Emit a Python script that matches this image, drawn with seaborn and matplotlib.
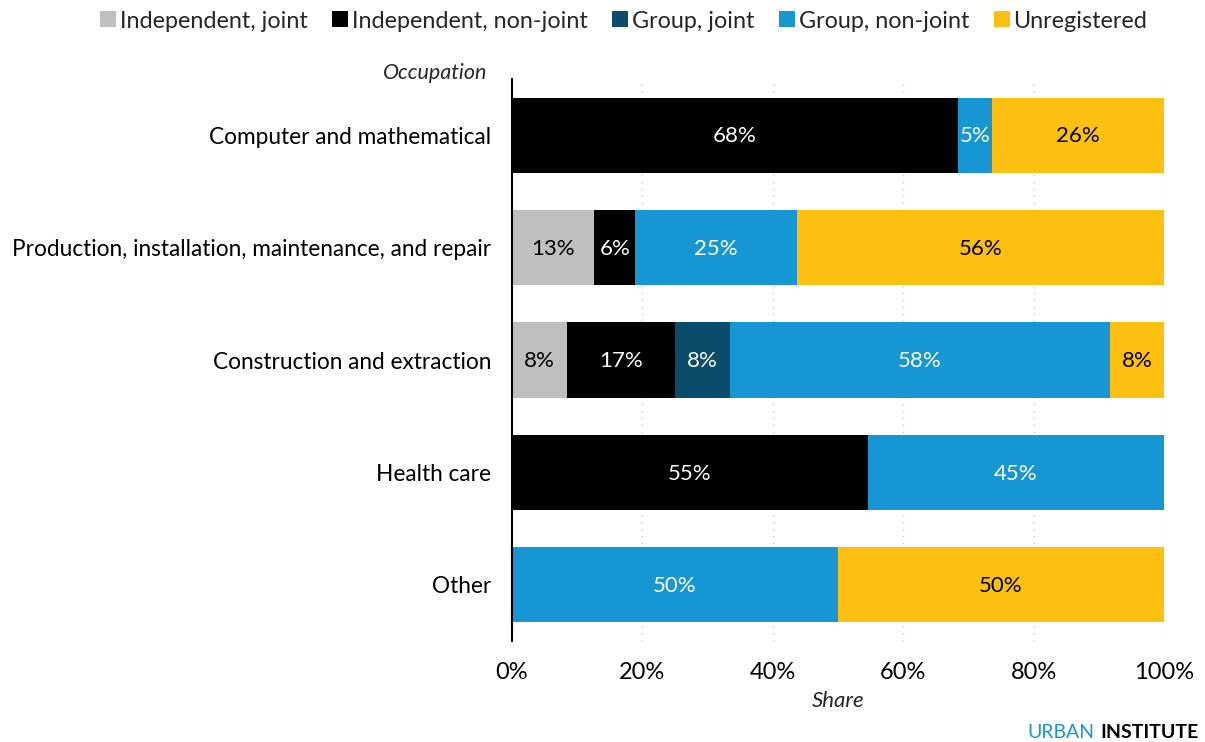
import matplotlib
matplotlib.use("Agg")
import matplotlib.pyplot as plt
from matplotlib.lines import Line2D
import numpy as np
import pandas as pd
import seaborn as sns

# Occupations (top to bottom) and share of each registration type, in percent
occupations = [
    "Computer and mathematical",
    "Production, installation, maintenance, and repair",
    "Construction and extraction",
    "Health care",
    "Other",
]
series_names = [
    "Independent, joint",
    "Independent, non-joint",
    "Group, joint",
    "Group, non-joint",
    "Unregistered",
]
independent_joint = [0.0, 12.6, 8.4, 0.0, 0.0]
independent_nonjoint = [68.4, 6.3, 16.6, 54.6, 0.0]
group_joint = [0.0, 0.0, 8.4, 0.0, 0.0]
group_nonjoint = [5.2, 24.8, 58.3, 45.4, 50.0]
unregistered = [26.4, 56.3, 8.3, 0.0, 50.0]

series_values = [independent_joint, independent_nonjoint, group_joint,
                 group_nonjoint, unregistered]
colors = ["#bfbfbf", "#000000", "#0a4c6a", "#1696d2", "#fdbf11"]
label_colors = ["#000000", "#ffffff", "#ffffff", "#ffffff", "#000000"]
x_ticks = [0, 20, 40, 60, 80, 100]

sns.set_theme(style="white")
plt.rcParams["font.family"] = ["Lato", "DejaVu Sans"]

df = pd.DataFrame({name: vals for name, vals in zip(series_names, series_values)},
                  index=occupations)
cum_end = df.cumsum(axis=1)
cum_start = cum_end - df

fig = plt.figure(figsize=(12.05, 7.42), dpi=100)
ax = fig.add_axes([512 / 1205, 1 - 641 / 742, 652 / 1205, (641 - 79) / 742])

# Stack by drawing cumulative totals from the outermost layer inward
for name, color in reversed(list(zip(series_names, colors))):
    plot_df = pd.DataFrame({"occupation": occupations, "end": cum_end[name].values})
    sns.barplot(data=plot_df, x="end", y="occupation", orient="h", color=color,
                saturation=1, width=0.67, ax=ax, linewidth=0, order=occupations)

# Segment value labels
for i, occ in enumerate(occupations):
    for name, tcolor in zip(series_names, label_colors):
        v = df.loc[occ, name]
        if v <= 0:
            continue
        ax.text(cum_start.loc[occ, name] + v / 2, i + 0.01, f"{round(v)}%",
                ha="center", va="center", color=tcolor, fontsize=16)

ax.set_xlim(0, 100)
ax.set_ylim(len(occupations) - 0.5, -0.5)
ax.set_xticks(x_ticks)
ax.set_xticklabels([f"{t}%" for t in x_ticks], fontsize=17)
ax.tick_params(axis="x", length=0, pad=15)
ax.tick_params(axis="y", length=0, pad=15, labelsize=16.3)
for t in ax.get_yticklabels():
    t.set_color("#000000")
for t in ax.get_xticklabels():
    t.set_color("#000000")

ax.set_xlabel("Share", fontsize=16, fontstyle="italic", labelpad=6)
ax.set_ylabel("")
ax.text(-0.038, 1.011, "Occupation", transform=ax.transAxes, ha="right", va="center",
        fontsize=15.5, fontstyle="italic")

# Dotted vertical gridlines
for t in x_ticks[1:]:
    ax.axvline(t, color="#c8c8c8", linestyle=(0, (1, 4)), linewidth=1, zorder=0)
ax.set_axisbelow(True)

for s in ["top", "right", "bottom"]:
    ax.spines[s].set_visible(False)
ax.spines["left"].set_color("#000000")
ax.spines["left"].set_linewidth(1.5)
ax.spines["left"].set_zorder(5)

# Legend across the top
handles = [Line2D([0], [0], marker="s", linestyle="none", markersize=12,
                  markerfacecolor=c, markeredgewidth=0) for c in colors]
fig.legend(handles, series_names, loc="center", bbox_to_anchor=(623 / 1205, 1 - 21 / 742),
           ncol=5, frameon=False, fontsize=16.8, handletextpad=0.1,
           columnspacing=1.0, handlelength=0.8)

# Brand mark
fig.text(1094 / 1205, 1 - 732 / 742, "URBAN", ha="right", va="center",
         fontsize=14, color="#1696d2")
fig.text(1100 / 1205, 1 - 732 / 742, "INSTITUTE", ha="left", va="center",
         fontsize=14, fontweight="bold", color="#000000")

fig.savefig("out.png", dpi=100)
